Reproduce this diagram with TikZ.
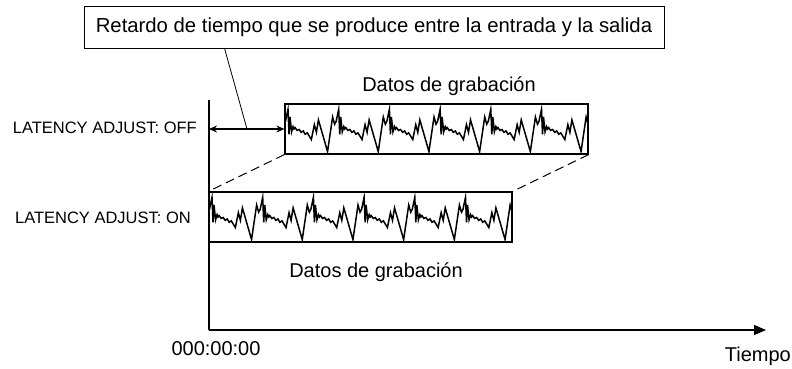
\documentclass[tikz,border=0pt]{standalone}
\usepackage{fontspec}
\setmainfont{Liberation Sans}
\usetikzlibrary{positioning,calc,arrows.meta}
\def\periodo{0/0.82,0.02/-0.22,0.04/0.50,0.07/-0.12,0.10/0.10,0.12/0.0,0.14/0.06,0.18/-0.06,0.22/-0.02,0.26/-0.14,0.30/-0.08,0.34/-0.22,0.38/-0.16,0.42/-0.30,0.46/-0.44,0.52/0.18,0.56/-0.14,0.60/0.38,0.78/-0.94,0.88/0.50,0.92/0.20,0.95/0.32}
\tikzset{
	caja/.style={draw,line width=1.2pt,minimum width=303pt,minimum height=50pt,inner sep=0pt},
	onda/.style={line width=1.5pt,line join=miter},
	texto/.style={inner sep=0pt,font=\fontsize{20}{24}\selectfont},
	nivel/.style={inner sep=0pt,font=\fontsize{16.5}{20}\selectfont}
}
\newcommand{\senal}[1]{%
	\begin{scope}
	\clip (#1.south west) rectangle (#1.north east);
	\begin{scope}[shift={(#1.center)}]
	\draw[onda] (-250,0) \foreach \k in {-2,...,6}{\foreach \t/\v in \periodo { -- ({-148.5+(\k+\t)*50.7},{-\v*24}) }};
	\end{scope}
	\end{scope}}

\begin{document}
\begin{tikzpicture}[x=1pt,y=-1pt]
			\useasboundingbox (0,0) rectangle (792,369);
			\node[draw,line width=0.9pt,minimum width=580pt,minimum height=42pt,inner sep=0pt,font=\fontsize{20.3}{24}\selectfont] (retardo) at (374,27) {Retardo de tiempo que se produce entre la entrada y la salida};
			\node[caja] (grabA) at (436.5,129) {};
			\node[caja] (grabB) at (360.5,217) {};
			\node[texto,anchor=base] (datosA) at (449,92) {Datos de grabación};
			\node[texto,anchor=base] (datosB) at (376,277) {Datos de grabación};
			\node[nivel,anchor=base east] (off) at (197,133) {LATENCY ADJUST: OFF};
			\node[nivel,anchor=base east] (on) at (191,223) {LATENCY ADJUST: ON};
			\node[texto,anchor=base] (cero) at (216,355) {000:00:00};
			\node[texto,anchor=base east] (tiempo) at (791,361) {Tiempo};
			\coordinate (origen) at (209,330);
			\coordinate (ejeY) at (209,100);
			\coordinate (ejeX) at (766,330);
			\coordinate (guia) at (247,129);
			
			\senal{grabA}
			\senal{grabB}
			
			\begin{scope}[line width=1.2pt]
			\draw (ejeY) -- (origen);
			\draw[-{Triangle[length=12pt,width=10pt]}] (origen) -- (ejeX);
			\draw[{Stealth[length=8pt,width=7pt]}-{Stealth[length=8pt,width=7pt]}] (grabA.west -| origen) -- (grabA.west);
			\end{scope}
			
			\begin{scope}[dashed,dash pattern=on 9pt off 5pt,line width=1pt]
			\draw (grabA.south west) -- (grabB.north west);
			\draw (grabA.south east) -- (grabB.north east);
			\end{scope}
			
			\draw[line width=0.8pt] ($(retardo.south west)+(141,0)$) -- (guia);
\end{tikzpicture}
\end{document}
